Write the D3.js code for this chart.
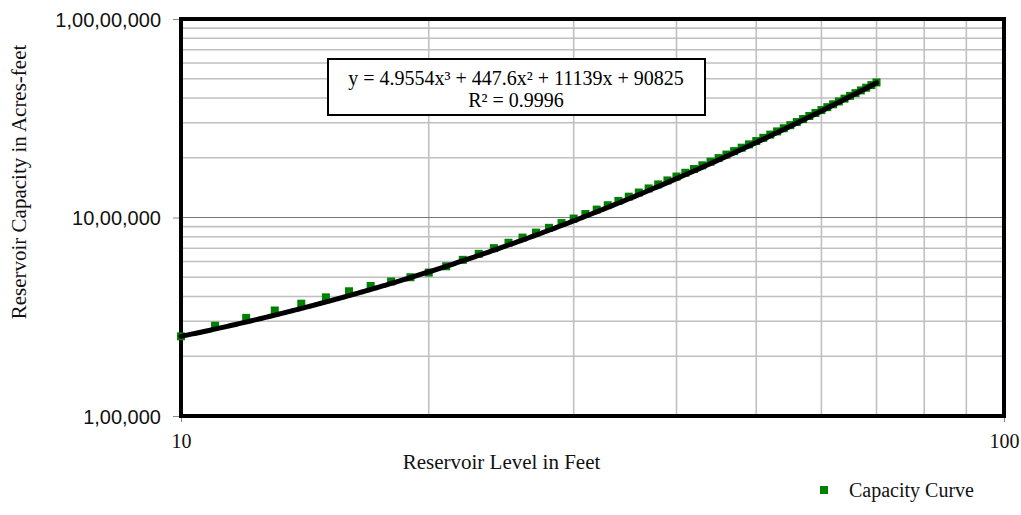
<!DOCTYPE html>
<html>
<head>
<meta charset="utf-8">
<script src="https://cdn.jsdelivr.net/npm/d3@7/dist/d3.min.js"></script>
<style>
  html, body { margin: 0; padding: 0; background: #fff; }
  svg { display: block; }
</style>
</head>
<body>
<svg id="chart" width="1021" height="515"></svg>
<script>
// Reservoir level (ft) and storage capacity (acre-feet)
const levels = [10, 11, 12, 13, 14, 15, 16, 17, 18, 19,
                20, 21, 22, 23, 24, 25, 26, 27, 28, 29,
                30, 31, 32, 33, 34, 35, 36, 37, 38, 39,
                40, 41, 42, 43, 44, 45, 46, 47, 48, 49,
                50, 51, 52, 53, 54, 55, 56, 57, 58, 59,
                60, 61, 62, 63, 64, 65, 66, 67, 68, 69, 70];
const capacity = [252000, 285000, 312000, 340000, 368000, 396000, 425000, 452000, 476000, 500000,
                  528000, 568000, 612000, 656000, 701000, 746000, 792000, 839000, 887000, 937000,
                  988000, 1041000, 1096000, 1153000, 1212000, 1273000, 1336000, 1401000, 1468000, 1537000,
                  1608000, 1680000, 1755000, 1832000, 1911000, 1992000, 2075000, 2160000, 2247000, 2336000,
                  2427000, 2520000, 2616000, 2715000, 2816000, 2919000, 3026000, 3134000, 3246000, 3360000,
                  3477000, 3596000, 3718000, 3843000, 3970000, 4100000, 4232000, 4367000, 4505000, 4645000, 4790000];

// Cubic trend line coefficients: a*x^3 + b*x^2 + c*x + d
const trendCoef = [4.9554, 447.6, 11139, 90825];
const trendLabel = ["y = 4.9554x\u00B3 + 447.6x\u00B2 + 11139x + 90825", "R\u00B2 = 0.9996"];

const xTicks = [10, 100];
const xTickLabels = ["10", "100"];
const yTicks = [1e5, 1e6, 1e7];
const yTickLabels = ["1,00,000", "10,00,000", "1,00,00,000"];

const xTitle = "Reservoir Level in Feet";
const yTitle = "Reservoir Capacity in Acres-feet";
const legendLabel = "Capacity Curve";

const svg = d3.select("#chart");
const plot = { left: 181, right: 1004, top: 19, bottom: 416 };

const x = d3.scaleLog().domain([10, 100]).range([plot.left, plot.right]);
const y = d3.scaleLog().domain([1e5, 1e7]).range([plot.bottom, plot.top]);

const serif = "'Liberation Serif', 'Times New Roman', serif";
const sans = "'Liberation Sans', Arial, sans-serif";

// Minor grid (2..9 within each decade)
const xMinor = d3.range(2, 10).map(k => k * 10);
const yMinor = [];
[1e5, 1e6].forEach(dec => d3.range(2, 10).forEach(k => yMinor.push(k * dec)));

const grid = svg.append("g");
grid.selectAll("line.xm").data(xMinor).join("line")
  .attr("x1", d => x(d)).attr("x2", d => x(d))
  .attr("y1", plot.top).attr("y2", plot.bottom)
  .attr("stroke", "#c0c0c0").attr("stroke-width", 1.6);
grid.selectAll("line.ym").data(yMinor).join("line")
  .attr("x1", plot.left).attr("x2", plot.right)
  .attr("y1", d => y(d)).attr("y2", d => y(d))
  .attr("stroke", "#c0c0c0").attr("stroke-width", 1.6);
// Major decade gridline
grid.selectAll("line.ymaj").data([1e6]).join("line")
  .attr("x1", plot.left).attr("x2", plot.right)
  .attr("y1", d => y(d)).attr("y2", d => y(d))
  .attr("stroke", "#777").attr("stroke-width", 1.2);

// Axes (tick marks + labels)
const yAxis = d3.axisLeft(y).tickValues(yTicks)
  .tickFormat((d, i) => yTickLabels[i]).tickSize(8).tickPadding(12);
const gy = svg.append("g").attr("transform", `translate(${plot.left},0)`).call(yAxis);
gy.select(".domain").remove();
gy.selectAll(".tick line").attr("stroke", "#888").attr("stroke-width", 1);
gy.selectAll(".tick text").attr("font-family", sans).attr("font-size", 20).attr("fill", "#111")
  .attr("dy", "0.35em");

const xAxis = d3.axisBottom(x).tickValues(xTicks)
  .tickFormat((d, i) => xTickLabels[i]).tickSize(6).tickPadding(12);
const gx = svg.append("g").attr("transform", `translate(0,${plot.bottom})`).call(xAxis);
gx.select(".domain").remove();
gx.selectAll(".tick line").attr("stroke", "#888");
gx.selectAll(".tick text").attr("font-family", serif).attr("font-size", 20).attr("fill", "#111");

// Plot border
svg.append("rect").attr("x", plot.left).attr("y", plot.top)
  .attr("width", plot.right - plot.left).attr("height", plot.bottom - plot.top)
  .attr("fill", "none").attr("stroke", "#000").attr("stroke-width", 4);

// Data markers
const pts = levels.map((lv, i) => ({ lv, cap: capacity[i] }));
const ms = 8;
svg.append("g").selectAll("rect").data(pts).join("rect")
  .attr("x", d => x(d.lv) - ms / 2).attr("y", d => y(d.cap) - ms / 2)
  .attr("width", ms).attr("height", ms).attr("fill", "#008000");

// Trend line over the data range
const poly = v => ((trendCoef[0] * v + trendCoef[1]) * v + trendCoef[2]) * v + trendCoef[3];
const xs = d3.range(0, 301).map(i => 10 * Math.pow(7, i / 300));
svg.append("path").datum(xs)
  .attr("d", d3.line().x(v => x(v)).y(v => y(poly(v))))
  .attr("fill", "none").attr("stroke", "#000").attr("stroke-width", 5)
  .attr("stroke-linecap", "round");

// Equation box
const box = svg.append("g");
box.append("rect").attr("x", 328).attr("y", 59).attr("width", 377).attr("height", 56)
  .attr("fill", "#fff").attr("stroke", "#000").attr("stroke-width", 2);
box.selectAll("text").data(trendLabel).join("text")
  .attr("x", 516).attr("y", (d, i) => 85 + i * 22)
  .attr("text-anchor", "middle").attr("font-family", serif).attr("font-size", 20)
  .attr("fill", "#000").text(d => d);

// Axis titles
svg.append("text").attr("x", 501.5).attr("y", 469)
  .attr("text-anchor", "middle").attr("font-family", serif).attr("font-size", 21)
  .attr("fill", "#111").text(xTitle);
svg.append("text").attr("transform", "translate(26,182) rotate(-90)")
  .attr("text-anchor", "middle").attr("font-family", serif).attr("font-size", 21)
  .attr("fill", "#111").text(yTitle);

// Legend
const lg = svg.append("g").attr("transform", "translate(824,490)");
lg.append("rect").attr("x", -ms / 2).attr("y", -ms / 2).attr("width", ms).attr("height", ms)
  .attr("fill", "#008000");
lg.append("text").attr("x", 25).attr("y", 7).attr("font-family", serif).attr("font-size", 20)
  .attr("fill", "#111").text(legendLabel);
</script>
</body>
</html>
